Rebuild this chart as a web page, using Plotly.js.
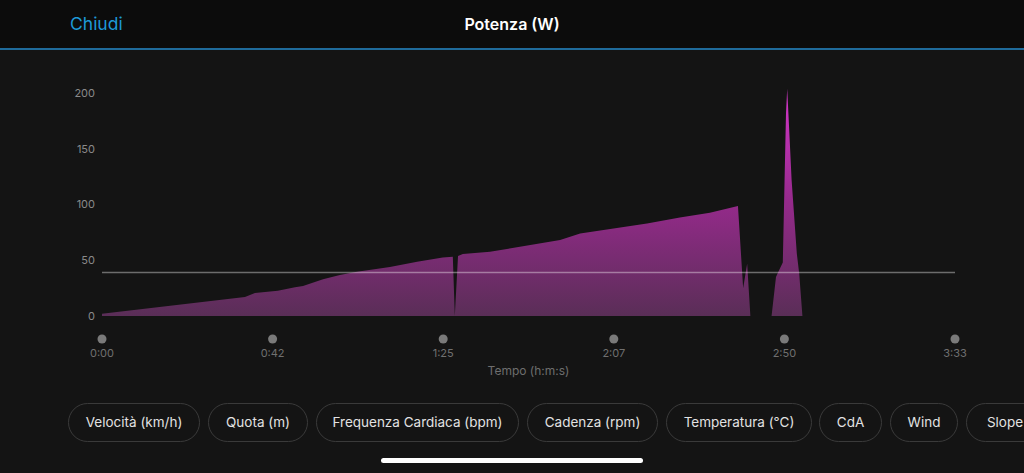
<!DOCTYPE html>
<html>
<head>
<meta charset="utf-8">
<script src="https://cdn.plot.ly/plotly-3.0.1.min.js"></script>
<style>
  html, body { margin: 0; padding: 0; background: #141414; width: 1024px; height: 473px; overflow: hidden; }
  #chart { position: absolute; left: 0; top: 0; width: 1024px; height: 473px; }
  #header { position: absolute; left: 0; top: 0; width: 1024px; height: 48px; background: #0c0c0c; border-bottom: 2px solid #1f6b9b; z-index: 5; font-family: "Inter", "Liberation Sans", sans-serif; }
  #close { position: absolute; left: 70px; top: 12px; font-size: 17.5px; color: #1e9ad8; line-height: 24px; }
  #title { position: absolute; left: 0; width: 1024px; top: 12px; text-align: center; font-size: 16px; font-weight: 600; color: #ffffff; line-height: 24px; }
  .pill { position: absolute; top: 403px; height: 37px; border: 1px solid #3a3a3a; border-radius: 20px; box-sizing: content-box; color: #e2e2e2; font-family: "Inter", "Liberation Sans", sans-serif; font-size: 13.5px; line-height: 37px; text-align: center; white-space: nowrap; z-index: 5; }
  #home { position: absolute; left: 381px; top: 458px; width: 262px; height: 5px; background: #ffffff; border-radius: 3px; z-index: 5; }
</style>
</head>
<body>
<div id="chart"></div>
<div id="header"><div id="close">Chiudi</div><div id="title">Potenza (W)</div></div>
<div id="pills"></div>
<div id="home"></div>
<script>
// ---- data ----
const timeMin = [0, 9.5, 17.4, 26.9, 35.7, 38.2, 43.9, 48.2, 50.2, 55.2, 59.4, 63.7, 71.9, 78.7, 85.1, 87.6, 88.1, 88.9, 90.1, 96.9, 106.9, 114.4, 119.4, 124.3, 129.3, 136.1, 144.3, 151.8, 158.8, 160.1, 161.1, 161.9, 167.2, 168.3, 168.9, 170.0, 170.8, 171.1, 171.4, 172.2, 173.5, 174.1, 174.9];
const powerW  = [2, 6, 9.6, 13.5, 17, 20.6, 22.7, 25.7, 27, 33, 36.8, 39.7, 44, 48.7, 52.6, 53.2, 0, 53.8, 55.6, 57.7, 63.7, 68.2, 74, 76.5, 79.5, 83, 88.5, 92.6, 98.7, 24.8, 47, 0, 0, 35, 39.7, 48, 182, 204, 182, 122, 56, 38, 0];
const avgPower = 39;
const xTickVals = [0, 42.6, 85.2, 127.8, 170.4, 213];
const xTickText = ["0:00", "0:42", "1:25", "2:07", "2:50", "3:33"];
const yTickVals = [0, 50, 100, 150, 200];
const buttonLabels = ["Velocità (km/h)", "Quota (m)", "Frequenza Cardiaca (bpm)", "Cadenza (rpm)", "Temperatura (°C)", "CdA", "Wind", "Slope"];

// ---- chart ----
const xMax = xTickVals[xTickVals.length - 1];
const trace = {
  x: timeMin, y: powerW, type: 'scatter', mode: 'lines',
  line: { width: 0, color: 'rgba(0,0,0,0)' },
  fill: 'tozeroy',
  fillgradient: { type: 'vertical', start: 0, stop: 205,
    colorscale: [[0, '#5a2e57'], [0.5, '#952a8b'], [1, '#d636cc']] },
  hoverinfo: 'skip', showlegend: false
};

// tick dots: anchored on the x axis fraction so the edge dots are not clipped
const shapes = xTickVals.map(v => ({
  type: 'circle', xref: 'paper', yref: 'paper', xsizemode: 'pixel', ysizemode: 'pixel',
  xanchor: v / xMax, yanchor: -0.0983, x0: -4.5, x1: 4.5, y0: -4.5, y1: 4.5,
  fillcolor: '#7a7a7a', line: { width: 0 }
}));
shapes.push({ type: 'line', xref: 'x', yref: 'y', x0: xTickVals[0], x1: xMax, y0: avgPower, y1: avgPower,
  line: { color: 'rgba(255,255,255,0.38)', width: 1.5 }, layer: 'above' });

const layout = {
  width: 1024, height: 473,
  margin: { l: 102, r: 69, t: 82, b: 157, pad: 0 },
  paper_bgcolor: '#141414', plot_bgcolor: '#141414',
  font: { family: 'Inter, "Liberation Sans", sans-serif', color: '#8a8a8a' },
  showlegend: false,
  xaxis: {
    range: [0, xMax], showgrid: false, zeroline: false, showline: false,
    tickmode: 'array', tickvals: xTickVals, ticktext: xTickText, ticks: '',
    ticklabelstandoff: 29,
    tickfont: { size: 11, color: '#707070' },
    title: { text: 'Tempo (h:m:s)', font: { size: 12, color: '#6e6e6e' }, standoff: 7 },
    fixedrange: true
  },
  yaxis: {
    range: [0, 210], showgrid: false, zeroline: false, showline: false,
    tickmode: 'array', tickvals: yTickVals, ticks: '',
    ticklabelstandoff: 6,
    tickfont: { size: 11, color: '#8a8a8a' },
    fixedrange: true
  },
  shapes: shapes
};

Plotly.newPlot('chart', [trace], layout, { staticPlot: true, displayModeBar: false });

// ---- pill buttons ----
const pillLefts = [68, 208, 316, 527, 666, 819, 890, 966];
const pillWidths = [130, 98, 201, 129, 144, 61, 66, 76];
const pillsDiv = document.getElementById('pills');
buttonLabels.forEach((t, i) => {
  const d = document.createElement('div');
  d.className = 'pill';
  d.style.left = pillLefts[i] + 'px';
  d.style.width = pillWidths[i] + 'px';
  d.textContent = t;
  pillsDiv.appendChild(d);
});
</script>
</body>
</html>
